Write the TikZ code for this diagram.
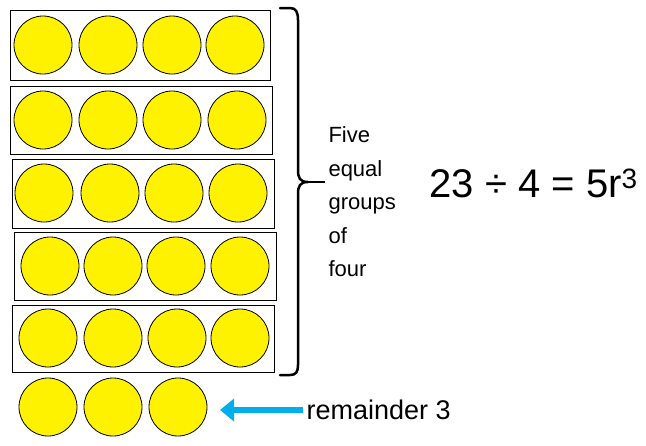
\documentclass[tikz,border=0pt]{standalone}
\usetikzlibrary{arrows.meta}
\usepackage{fontspec}
\setmainfont{Liberation Sans}
\begin{document}
\begin{tikzpicture}[x=1pt,y=-1pt,
  ball/.style={circle,draw=black,thick,fill=yellow,minimum size=58pt,inner sep=0pt},
  grp/.style={draw=black,thick,fill=white},
  lbl/.style={font=\fontsize{22}{33.5}\selectfont,align=left,anchor=west}]
\useasboundingbox (0,0) rectangle (646,445);
\foreach \i/\xa/\ya/\xb/\yb/\cy/\a/\b/\c/\d in {
 1/10/10/270/80/45/43/108/172/235,
 2/10/86/272/154/120/43/108/172/237,
 3/12/159/274/228/193/44/110/174/238,
 4/14/232/276/300/266/50/113/176/240,
 5/12/305/274/372/338/48/113/177/240}{
  \draw[grp] (\xa,\ya) rectangle (\xb,\yb);
  \node[ball] (b\i a) at (\a,\cy) {};
  \node[ball] (b\i b) at (\b,\cy) {};
  \node[ball] (b\i c) at (\c,\cy) {};
  \node[ball] (b\i d) at (\d,\cy) {};
}
\node[ball] (r1) at (48,407) {};
\node[ball] (r2) at (113,407) {};
\node[ball] (r3) at (178,407) {};
\draw[line width=2.5pt,line cap=round] (280,8) -- (290,8) .. controls (296,8) and (298,12) .. (298,20)
  -- (298,170) .. controls (298,178) and (300,182) .. (308,182) .. controls (300,182) and (298,186) .. (298,194)
  -- (298,365) .. controls (298,372) and (296,375) .. (290,375) -- (280,375);
\draw[line width=2.5pt] (308,182) -- (325,182);
\node[lbl] (txt) at (325,202) {Five\\equal\\groups\\of\\four};
\node[font=\fontsize{40}{44}\selectfont,anchor=west] (eq) at (426,183) {23 ÷ 4 = 5r\textsuperscript{3}};
\node[font=\fontsize{27}{30}\selectfont,anchor=west] (rem) at (303,410) {remainder 3};
\coordinate (tip) at (220,410);
\draw[line width=6pt,color={rgb,255:red,0;green,174;blue,239},-{Triangle[length=14pt,width=22pt]}] (rem.west) -- (tip);
\end{tikzpicture}
\end{document}
